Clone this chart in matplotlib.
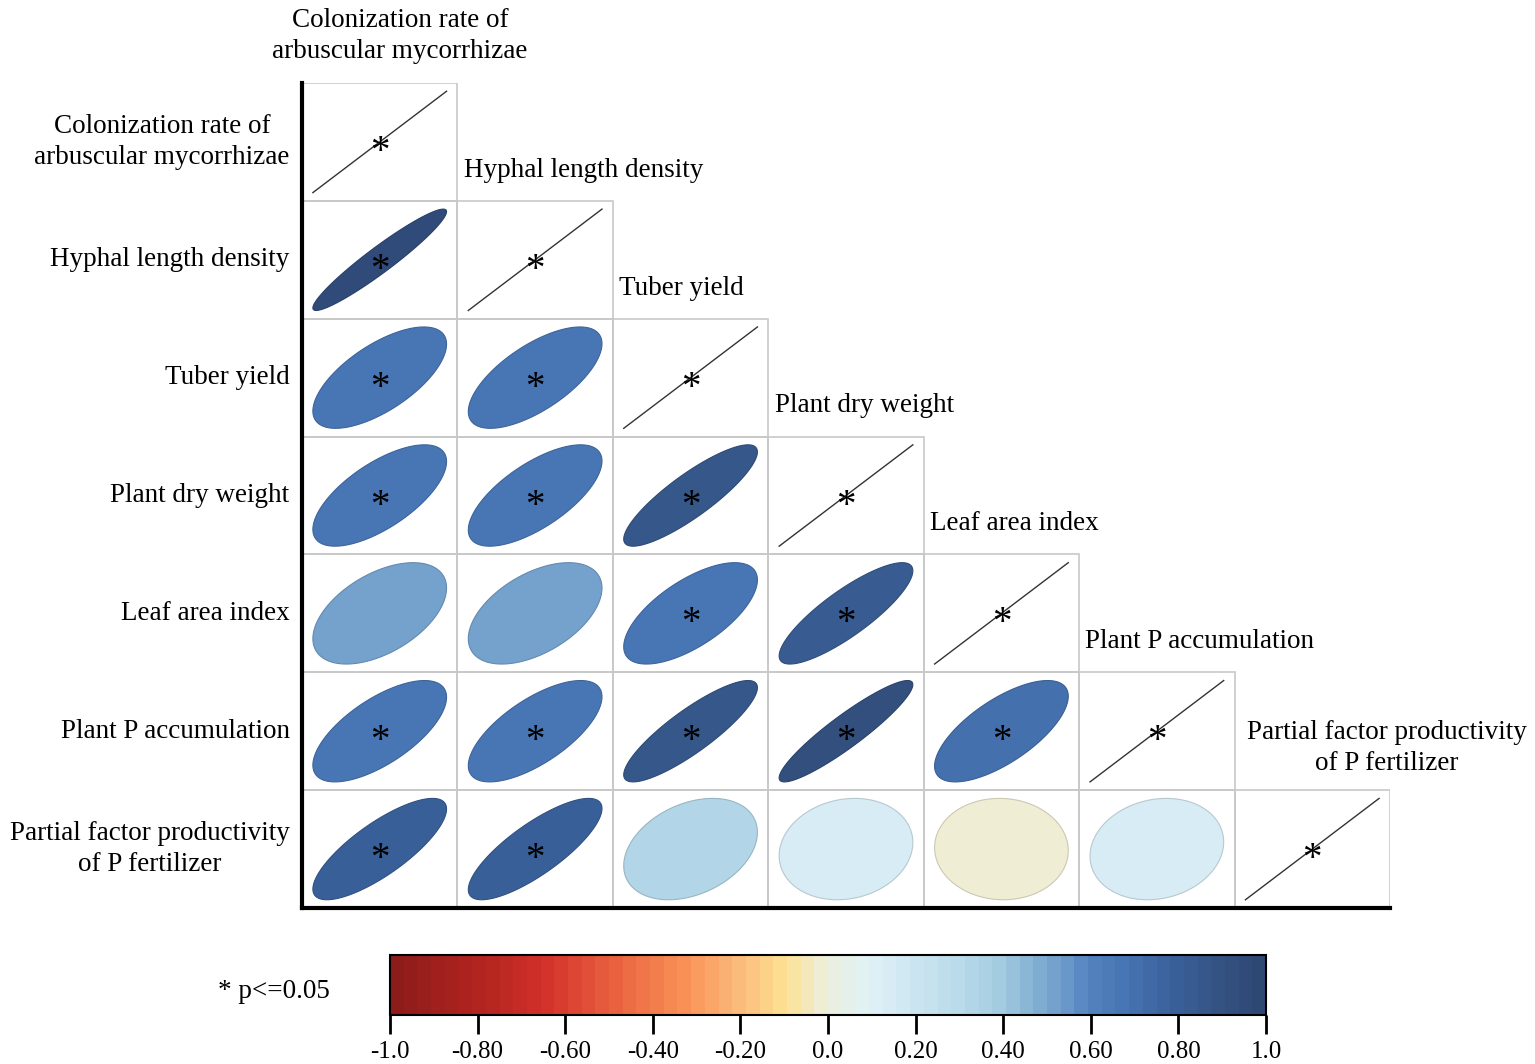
import numpy as np
import matplotlib
matplotlib.use('Agg')
import matplotlib.pyplot as plt
from matplotlib.colors import LinearSegmentedColormap, Normalize
from matplotlib.patches import Polygon, Rectangle
from matplotlib.colorbar import ColorbarBase

plt.rcParams['font.family'] = ['Liberation Serif', 'DejaVu Serif']

labels = [
    'Colonization rate of\narbuscular mycorrhizae',
    'Hyphal length density',
    'Tuber yield',
    'Plant dry weight',
    'Leaf area index',
    'Plant P accumulation',
    'Partial factor productivity\nof P fertilizer',
]

# lower triangle correlations, row by row (row i has i values)
r_hyphal = [0.95]
r_tuber = [0.66, 0.67]
r_dry = [0.67, 0.68, 0.86]
r_lai = [0.50, 0.50, 0.66, 0.84]
r_plantp = [0.67, 0.68, 0.86, 0.92, 0.69]
r_pfp = [0.79, 0.80, 0.33, 0.13, -0.03, 0.14]

sig_hyphal = [1]
sig_tuber = [1, 1]
sig_dry = [1, 1, 1]
sig_lai = [0, 0, 1, 1]
sig_plantp = [1, 1, 1, 1, 1]
sig_pfp = [1, 1, 0, 0, 0, 0]

cbar_ticks = [-1.0, -0.8, -0.6, -0.4, -0.2, 0.0, 0.2, 0.4, 0.6, 0.8, 1.0]
cbar_ticklabels = ['-1.0', '-0.80', '-0.60', '-0.40', '-0.20', '0.0',
                   '0.20', '0.40', '0.60', '0.80', '1.0']

rows_r = [[], r_hyphal, r_tuber, r_dry, r_lai, r_plantp, r_pfp]
rows_sig = [[], sig_hyphal, sig_tuber, sig_dry, sig_lai, sig_plantp, sig_pfp]

stops = [
    (0.00, '#8c1c19'), (0.10, '#b3241f'), (0.17, '#d3302a'),
    (0.25, '#e8603f'), (0.33, '#f98f55'), (0.40, '#fbbd7c'),
    (0.45, '#fde193'), (0.50, '#ecefdf'), (0.55, '#dff1f7'),
    (0.65, '#b9dbea'), (0.70, '#a3cbe1'), (0.75, '#7caad1'),
    (0.78, '#6896c8'), (0.80, '#5383c0'), (0.85, '#4673b1'),
    (0.90, '#3a609a'), (0.95, '#345383'), (1.00, '#2e4874'),
]
cmap = LinearSegmentedColormap.from_list('corr', stops, N=64)
norm = Normalize(-1, 1)

fig = plt.figure(figsize=(15.35, 10.64), dpi=100)
ax = fig.add_axes([302 / 1535, 156 / 1064, 1088 / 1535, 825 / 1064])
n = len(labels)
ax.set_xlim(0, n)
ax.set_ylim(n, 0)
ax.set_xticks([])
ax.set_yticks([])
for s in ['top', 'right']:
    ax.spines[s].set_visible(False)
ax.spines['left'].set_linewidth(3)
ax.spines['bottom'].set_linewidth(3)

t = np.linspace(0, 2 * np.pi, 200)
scale = 0.43
fs = 19.5

for i in range(n):
    for j in range(i + 1):
        ax.add_patch(Rectangle((j, i), 1, 1, fill=False, edgecolor='#c8c8c8', lw=1.2, zorder=1))
        cx, cy = j + 0.5, i + 0.5
        if i == j:
            ax.plot([cx - scale, cx + scale], [cy + scale, cy - scale], color='#333333', lw=1.0, zorder=2)
            ax.text(cx, cy + 0.09, '*', ha='center', va='center', fontsize=28, zorder=3)
            continue
        r = rows_r[i][j]
        d = np.arccos(r)
        ex = np.cos(t + d / 2)
        ey = np.cos(t - d / 2)
        pts = np.column_stack([cx + scale * ex, cy - scale * ey])
        col = cmap(norm(r))
        edge = tuple(c * 0.85 for c in col[:3])
        ax.add_patch(Polygon(pts, closed=True, facecolor=col, edgecolor=edge, lw=0.8, zorder=2))
        if rows_sig[i][j]:
            ax.text(cx, cy + 0.09, '*', ha='center', va='center', fontsize=28, zorder=3)

# row labels
for i, lab in enumerate(labels):
    ax.text(-0.08, i + 0.5, lab, ha='right', va='center', multialignment='center',
            fontsize=fs, linespacing=1.3)

# column labels
ax.text(0.63, -0.40, labels[0], ha='center', va='center', multialignment='center',
        fontsize=fs, linespacing=1.3, clip_on=False)
for k in range(1, n - 1):
    ax.text(k + 0.04, k - 0.26, labels[k], ha='left', va='center', fontsize=fs)
ax.text(n - 1 + 0.98, n - 1 - 0.36, labels[-1], ha='center', va='center',
        multialignment='center', fontsize=fs, linespacing=1.3, clip_on=False)

# colour bar
cax = fig.add_axes([390 / 1535, 49 / 1064, 876 / 1535, 60 / 1064])
cb = ColorbarBase(cax, cmap=cmap, norm=norm, orientation='horizontal', ticks=cbar_ticks)
cb.set_ticklabels(cbar_ticklabels)
cb.outline.set_linewidth(1.5)
cax.tick_params(length=14, width=2, labelsize=18, pad=5)

fig.text(218 / 1535, 1 - 992 / 1064, '* p<=0.05', ha='left', va='center', fontsize=fs)

fig.savefig('out.png', dpi=100)
